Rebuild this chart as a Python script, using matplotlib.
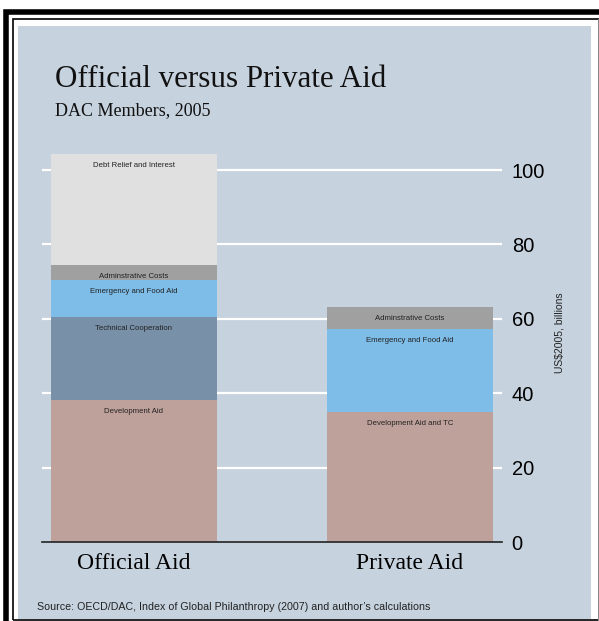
import matplotlib
matplotlib.use("Agg")
import matplotlib.pyplot as plt
from matplotlib.patches import Rectangle
import numpy as np

categories = ["Official Aid", "Private Aid"]

official_labels = ["Development Aid", "Technical Cooperation", "Emergency and Food Aid",
                   "Adminstrative Costs", "Debt Relief and Interest"]
official_values = [38.2, 22.3, 9.9, 4.1, 29.8]
official_colors = ["#BFA19B", "#7890A8", "#7DBDE8", "#A0A0A0", "#E0E0E0"]

private_labels = ["Development Aid and TC", "Emergency and Food Aid", "Adminstrative Costs"]
private_values = [34.9, 22.4, 5.9]
private_colors = ["#BFA19B", "#7DBDE8", "#A0A0A0"]

yticks = [0, 20, 40, 60, 80, 100]

W, H = 599, 621
fig = plt.figure(figsize=(W / 100, H / 100), dpi=100)
fig.patch.set_facecolor("white")

def px(x0, y0, x1, y1, **kw):
    r = Rectangle((x0 / W, 1 - y1 / H), (x1 - x0) / W, (y1 - y0) / H,
                  transform=fig.transFigure, zorder=-5, **kw)
    fig.patches.append(r)

# outer thick border
px(6, 12, 640, 640, fill=False, edgecolor="black", linewidth=4)
# inner thin border
px(12.5, 18.5, 640, 620, fill=False, edgecolor="black", linewidth=1.2)
# right gray edge
px(597.5, 18.5, 599, 621, facecolor="#888888", edgecolor="none")
# panel background
px(18, 26, 591, 619, facecolor="#C6D2DE", edgecolor="none")

ax = fig.add_axes([42 / W, 1 - 542 / H, 460 / W, 106 * 3.72 / H])
ax.set_facecolor("none")
ax.set_xlim(-0.333, 1.333)
ax.set_ylim(0, 106)

for y in yticks[1:]:
    ax.axhline(y, color="white", linewidth=1.6, zorder=1)

x = np.arange(len(categories))
width = 0.6

def stack(xpos, values, colors, labels):
    bottom = 0
    for v, c, lab in zip(values, colors, labels):
        ax.bar(xpos, v, width=width, bottom=bottom, color=c, zorder=2, linewidth=0)
        top = bottom + v
        ax.annotate(lab, xy=(xpos, top), xytext=(0, -8.2), textcoords="offset points",
                    ha="center", va="center", fontsize=5.6, color="#222222",
                    family="Liberation Sans", zorder=3)
        bottom = top

stack(x[0], official_values, official_colors, official_labels)
stack(x[1], private_values, private_colors, private_labels)

for s in ["top", "left", "right"]:
    ax.spines[s].set_visible(False)
ax.spines["bottom"].set_color("#222222")
ax.spines["bottom"].set_linewidth(1.2)
ax.spines["bottom"].set_zorder(4)

ax.yaxis.tick_right()
ax.set_yticks(yticks)
ax.set_yticklabels([str(t) for t in yticks], fontsize=14.5, family="Liberation Sans")
ax.tick_params(axis="y", length=0, pad=7)
ax.set_xticks(x)
ax.set_xticklabels(categories, fontsize=17, family="Liberation Serif")
ax.tick_params(axis="x", length=0, pad=8)

fig.text(559 / W, 1 - 333 / H, "US$2005, billions", rotation=90, ha="center", va="center",
         fontsize=7.5, family="Liberation Sans", color="#222222")

fig.text(55 / W, 1 - 87 / H, "Official versus Private Aid", ha="left", va="baseline",
         fontsize=22.3, family="Liberation Serif", color="#111111")
fig.text(55 / W, 1 - 115 / H, "DAC Members, 2005", ha="left", va="baseline",
         fontsize=13, family="Liberation Serif", color="#111111")
fig.text(37 / W, 1 - 607 / H,
         "Source: OECD/DAC, Index of Global Philanthropy (2007) and author\u2019s calculations",
         ha="left", va="center", fontsize=7.7, family="Liberation Sans", color="#222222")

fig.savefig("out.png", dpi=100, facecolor="white")
